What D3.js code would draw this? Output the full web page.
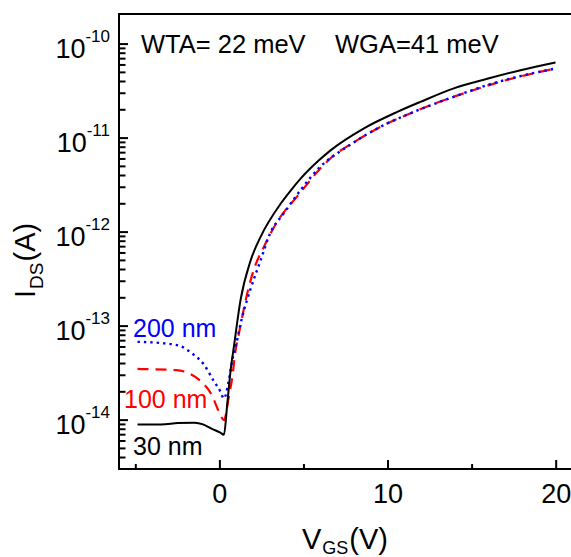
<!DOCTYPE html>
<html>
<head>
<meta charset="utf-8">
<script src="https://cdn.jsdelivr.net/npm/d3@7"></script>
<style>
  html, body { margin: 0; padding: 0; background: #fff; }
  svg { display: block; }
  text { font-family: "Liberation Sans", Arial, Helvetica, sans-serif; }
</style>
</head>
<body>
<script>
// ---------------- data ----------------
const vgs30 = [-4.9, -3.5, -2.5, -1.5, -1, -0.5, 0, 0.24, 0.44, 0.64, 0.83, 1.23, 1.83, 2.42, 3.61, 4.2, 4.8, 5.89, 6.58, 8.57, 10.55, 11.93, 13.91, 15.9, 17.88, 19.96];
const ids30 = [9.0e-15, 9.0e-15, 9.3e-15, 9.4e-15, 9.0e-15, 8.1e-15, 7.4e-15, 7.0e-15, 1.5e-14, 3.4e-14, 6.0e-14, 1.9e-13, 5.0e-13, 8.9e-13, 2.0e-12, 2.75e-12, 3.7e-12, 5.8e-12, 7.4e-12, 1.27e-11, 1.9e-11, 2.43e-11, 3.38e-11, 4.27e-11, 5.28e-11, 6.38e-11];

const vgs100 = [-4.9, -2.6, -1.25, -0.45, -0.06, 0.24, 0.54, 0.74, 0.93, 1.13, 1.63, 2.02, 2.62, 3.41, 4.6, 6.58, 8.17, 9.95, 11.54, 13.1, 14.9, 16.5, 18.2, 19.96];
const ids100 = [3.5e-14, 3.4e-14, 2.7e-14, 1.8e-14, 1.23e-14, 1.0e-14, 1.8e-14, 2.9e-14, 5.5e-14, 8.3e-14, 2.24e-13, 4.0e-13, 7.0e-13, 1.29e-12, 2.4e-12, 6.1e-12, 9.5e-12, 1.43e-11, 1.9e-11, 2.45e-11, 3.16e-11, 3.89e-11, 4.68e-11, 5.5e-11];

const vgs200 = [-4.9, -3.5, -2.44, -1.64, -0.95, -0.36, 0.04, 0.24, 0.54, 0.74, 0.93, 1.33, 1.83, 2.42, 3.0, 3.8, 4.8, 5.89, 7.58, 9.55, 11.54, 13.91, 15.9, 17.88, 19.96];
const ids200 = [6.8e-14, 6.6e-14, 6.2e-14, 5.1e-14, 3.9e-14, 2.6e-14, 2.0e-14, 1.7e-14, 2.7e-14, 4.4e-14, 6.0e-14, 1.26e-13, 2.5e-13, 5.0e-13, 9.8e-13, 1.58e-12, 2.8e-12, 4.8e-12, 8.1e-12, 1.32e-11, 1.9e-11, 2.75e-11, 3.66e-11, 4.57e-11, 5.5e-11];

const xMajorTicks = [0, 10, 20];
const xMinorTicks = [-5, 5, 15];
const yDecades = [-14, -13, -12, -11, -10];
const yTickExponents = ["-14", "-13", "-12", "-11", "-10"];
const seriesLabels = ["30 nm", "100 nm", "200 nm"];
const seriesColors = ["#000000", "#ff0000", "#0000ff"];
const annotation1 = "WTA= 22 meV";
const annotation2 = "WGA=41 meV";

// ---------------- layout ----------------
const W = 571, H = 557;
const pLeft = 119, pRight = 573, pTop = 14, pBottom = 469;

const svg = d3.select("body").append("svg").attr("width", W).attr("height", H);

const x = d3.scaleLinear().domain([-6, 21]).range([pLeft, pRight]);
const y = d3.scaleLog().domain([Math.pow(10, -14.52), Math.pow(10, -9.68)]).range([pBottom, pTop]);

svg.append("clipPath").attr("id", "clip")
  .append("rect").attr("x", pLeft).attr("y", pTop).attr("width", pRight - pLeft).attr("height", pBottom - pTop);

// ---------------- curves ----------------
const line = d3.line().x(d => x(d[0])).y(d => y(d[1])).curve(d3.curveMonotoneX);
const g = svg.append("g").attr("clip-path", "url(#clip)");

g.append("path").datum(vgs100.map((v, i) => [v, ids100[i]]))
  .attr("d", line).attr("fill", "none").attr("stroke", seriesColors[1])
  .attr("stroke-width", 2.2).attr("stroke-dasharray", "11,7");

g.append("path").datum(vgs200.map((v, i) => [v, ids200[i]]))
  .attr("d", line).attr("fill", "none").attr("stroke", seriesColors[2])
  .attr("stroke-width", 2.4).attr("stroke-dasharray", "2.4,4");

g.append("path").datum(vgs30.map((v, i) => [v, ids30[i]]))
  .attr("d", line).attr("fill", "none").attr("stroke", seriesColors[0])
  .attr("stroke-width", 2);

// ---------------- axes ----------------
const axes = svg.append("g").attr("stroke", "#000").attr("stroke-width", 2);
axes.append("line").attr("x1", pLeft).attr("x2", pLeft).attr("y1", pTop - 1).attr("y2", pBottom + 1);
axes.append("line").attr("x1", pLeft - 1).attr("x2", pRight).attr("y1", pBottom).attr("y2", pBottom);
axes.append("line").attr("x1", pLeft - 1).attr("x2", pRight).attr("y1", pTop).attr("y2", pTop);

xMajorTicks.forEach(t => {
  axes.append("line").attr("x1", x(t)).attr("x2", x(t)).attr("y1", pBottom).attr("y2", pBottom - 9);
});
xMinorTicks.forEach(t => {
  axes.append("line").attr("x1", x(t)).attr("x2", x(t)).attr("y1", pBottom).attr("y2", pBottom - 5);
});

const [ymin, ymax] = y.domain();
yDecades.forEach(e => {
  axes.append("line").attr("x1", pLeft).attr("x2", pLeft + 9).attr("y1", y(Math.pow(10, e))).attr("y2", y(Math.pow(10, e)));
});
for (let e = -15; e <= -10; e++) {
  for (let m = 2; m <= 9; m++) {
    const v = m * Math.pow(10, e);
    if (v <= ymin || v >= ymax) continue;
    const py = y(v);
    if (py < pTop + 3 || py > pBottom - 1) continue;
    axes.append("line").attr("x1", pLeft).attr("x2", pLeft + 6.5).attr("y1", py).attr("y2", py);
  }
}

xMajorTicks.forEach(t => {
  svg.append("text").attr("x", x(t)).attr("y", 503).attr("text-anchor", "middle")
    .attr("font-size", 27).attr("fill", "#000").text(t);
});

yDecades.forEach((e, i) => {
  const py = y(Math.pow(10, e));
  const t = svg.append("text").attr("x", 110).attr("y", py + 14).attr("text-anchor", "end").attr("fill", "#000");
  t.append("tspan").attr("font-size", 27).text("10");
  t.append("tspan").attr("font-size", 17).attr("dy", -16).text(yTickExponents[i]);
});

const xt = svg.append("text").attr("x", 302).attr("y", 549).attr("fill", "#000").attr("font-size", 29);
xt.append("tspan").text("V");
xt.append("tspan").attr("font-size", 18).attr("dy", 5).attr("dx", 1).text("GS");
xt.append("tspan").attr("dy", -5).attr("dx", 1).text("(V)");

const yt = svg.append("text").attr("transform", "translate(35,298) rotate(-90)").attr("fill", "#000").attr("font-size", 29);
yt.append("tspan").text("I");
yt.append("tspan").attr("font-size", 19).attr("dy", 8).attr("dx", 1).text("DS");
yt.append("tspan").attr("dy", -8).attr("dx", 1).text("(A)");

svg.append("text").attr("x", 141).attr("y", 53).attr("font-size", 25.5).attr("fill", "#000").text(annotation1);
svg.append("text").attr("x", 335).attr("y", 53).attr("font-size", 25.5).attr("fill", "#000").text(annotation2);

svg.append("text").attr("x", 133).attr("y", 337).attr("font-size", 25).attr("fill", seriesColors[2]).text(seriesLabels[2]);
svg.append("text").attr("x", 124).attr("y", 408).attr("font-size", 25).attr("fill", seriesColors[1]).text(seriesLabels[1]);
svg.append("text").attr("x", 133).attr("y", 455).attr("font-size", 25).attr("fill", seriesColors[0]).text(seriesLabels[0]);
</script>
</body>
</html>
